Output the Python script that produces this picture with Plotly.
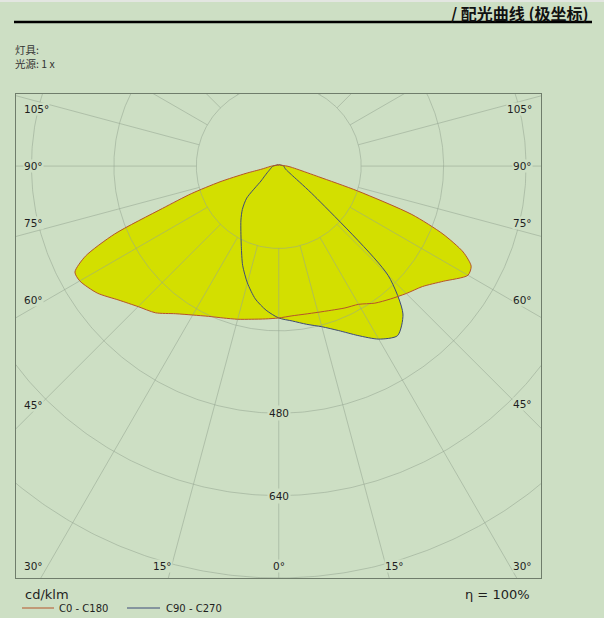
import numpy as np
import plotly.graph_objects as go

# ---------------- data (cd/klm by gamma angle, degrees from nadir) ----------------
GAMMA_C0 = [0, 5, 10, 15, 20, 25, 30, 35, 40, 45, 50, 55, 60, 62.5, 65, 67.5, 70, 72.5, 75, 80, 85, 90, 120, 150, 180]
C0 = [295, 292, 292, 294, 298, 304, 310, 325, 337, 350, 364, 390, 424, 421, 395, 345, 275, 160, 80, 38, 24, 16, 4, 3, 2]

GAMMA_C180 = [0, 5, 10, 15, 20, 25, 30, 35, 40, 45, 50, 55, 60, 62.5, 65, 67.5, 70, 72.5, 75, 77.5, 80, 85, 90, 120, 150, 180]
C180 = [295, 298, 302, 308, 314, 322, 334, 350, 372, 386, 405, 430, 446, 446, 414, 345, 240, 178, 118, 65, 33, 20, 14, 4, 3, 2]

GAMMA_C90 = [0, 5, 10, 15, 20, 25, 30, 35, 40, 45, 50, 55, 60, 65, 70, 80, 90, 120, 150, 180]
C90 = [295, 302, 312, 323, 340, 363, 388, 402, 375, 300, 90, 33, 20, 15, 13, 11, 10, 4, 3, 2]

GAMMA_C270 = [0, 5, 10, 15, 20, 25, 30, 35, 40, 45, 50, 55, 60, 65, 70, 80, 90, 120, 150, 180]
C270 = [295, 281, 262, 235, 205, 172, 147, 128, 110, 88, 45, 33, 26, 21, 18, 14, 11, 4, 3, 2]

RINGS = [160, 320, 480, 640, 800]
RING_LABELS = [480, 640]
SPOKE_STEP = 15
ANGLE_TICKS = [0, 15, 30, 45, 60, 75, 90, 105]
LEGEND_NAMES = ["C0 - C180", "C90 - C270"]
UNIT = "cd/klm"
EFFICIENCY = "η = 100%"
TITLE = "<b>/ 配光曲线 (极坐标)</b>"
INFO = ["灯具:", "光源: 1 x"]

# ---------------- layout constants ----------------
W, H = 604, 618
ML, MR, MT, MB = 16, 63, 94, 40
PW, PH = W - ML - MR, H - MT - MB
XR = [-510, 509]
YR = [-800, 140]

BG = "#cddfc4"
FILL = "#d3df00"
GRID = "rgba(150,166,146,0.55)"
FRAME = "#6f7d6b"
COL_C0 = "#b5542a"
COL_C90 = "#3d4a78"
TXT = "#1e1e1e"
FONT = "DejaVu Sans"
CJK = "Noto Sans CJK SC"


def px_x(x):
    return ML + (x - XR[0]) * PW / (XR[1] - XR[0])


def px_y(y):
    return MT + (YR[1] - y) * PH / (YR[1] - YR[0])


def data_x(px):
    return XR[0] + (px - ML) * (XR[1] - XR[0]) / PW


def data_y(py):
    return YR[1] - (py - MT) * (YR[1] - YR[0]) / PH


def paper_x(px):
    return (px - ML) / PW


def paper_y(py):
    return (MT + PH - py) / PH


def half(gammas, vals, side):
    g = np.radians(np.asarray(gammas, float))
    r = np.asarray(vals, float)
    return side * r * np.sin(g), -r * np.cos(g)


def closed(g_right, v_right, g_left, v_left):
    xr, yr = half(g_right, v_right, 1)
    xl, yl = half(g_left, v_left, -1)
    return np.concatenate([xr[::-1], xl[1:]]), np.concatenate([yr[::-1], yl[1:]])


x01, y01 = closed(GAMMA_C0, C0, GAMMA_C180, C180)
x90, y90 = closed(GAMMA_C90, C90, GAMMA_C270, C270)

SPL = dict(shape="spline", smoothing=0.7)

fig = go.Figure()

# fills
for xs, ys in [(x01, y01), (x90, y90)]:
    fig.add_trace(go.Scatter(x=xs, y=ys, mode="lines", fill="toself", fillcolor=FILL,
                             line=dict(width=0, color=FILL, **SPL), hoverinfo="skip", showlegend=False))

# grid rings
t = np.linspace(0, 2 * np.pi, 721)
gx, gy = [], []
for r in RINGS:
    gx += list(r * np.sin(t)) + [None]
    gy += list(r * np.cos(t)) + [None]
# spokes
for a in range(0, 360, SPOKE_STEP):
    ar = np.radians(a)
    gx += [RINGS[0] * np.sin(ar), 1500 * np.sin(ar), None]
    gy += [-RINGS[0] * np.cos(ar), -1500 * np.cos(ar), None]
fig.add_trace(go.Scatter(x=gx, y=gy, mode="lines", line=dict(color=GRID, width=1),
                         hoverinfo="skip", showlegend=False))

# outlines
fig.add_trace(go.Scatter(x=x90, y=y90, mode="lines", line=dict(color=COL_C90, width=1, **SPL),
                         hoverinfo="skip", showlegend=False, name=LEGEND_NAMES[1]))
fig.add_trace(go.Scatter(x=x01, y=y01, mode="lines", line=dict(color=COL_C0, width=1, **SPL),
                         hoverinfo="skip", showlegend=False, name=LEGEND_NAMES[0]))

annotations = []
shapes = []

# angle labels
cx, cy = px_x(0), px_y(0)
ROW = MT + PH - 12
for g in ANGLE_TICKS:
    sides = [0] if g == 0 else [-1, 1]
    for s in sides:
        if g == 0:
            px, py, anchor = cx, ROW, "center"
        elif g < 30:
            px = cx + s * (ROW - cy) * np.tan(np.radians(g)) + s * 9
            py, anchor = ROW, "center"
        else:
            refx = ML + 15 if s < 0 else W - MR - 15
            if g == 90:
                py = cy
            else:
                py = cy + abs(refx - cx) / np.tan(np.radians(g))
                py += -9 if g < 90 else 9
            py = min(py, ROW)
            if s < 0:
                px, anchor = ML + 7, "left"
            else:
                px, anchor = W - MR - 8, "right"
        annotations.append(dict(x=data_x(px), y=data_y(py), xref="x", yref="y", text=f"{g}°",
                                showarrow=False, xanchor=anchor, yanchor="middle", bgcolor=BG,
                                borderpad=0, font=dict(family=FONT, size=10.5, color=TXT)))

# ring labels
for r in RING_LABELS:
    annotations.append(dict(x=0, y=-r, xref="x", yref="y", text=str(r), showarrow=False,
                            xanchor="center", yanchor="middle", bgcolor=BG, borderpad=1,
                            font=dict(family=FONT, size=10.5, color=TXT)))

# header
annotations.append(dict(x=paper_x(591), y=paper_y(13), xref="paper", yref="paper", text=TITLE,
                        showarrow=False, xanchor="right", yanchor="middle",
                        font=dict(family=CJK, size=16, color="#111111")))
shapes.append(dict(type="line", xref="paper", yref="paper", x0=paper_x(14), x1=paper_x(592),
                   y0=paper_y(22), y1=paper_y(22), line=dict(color="#000000", width=2.5)))
shapes.append(dict(type="rect", xref="paper", yref="paper", x0=paper_x(0), x1=paper_x(W),
                   y0=paper_y(0), y1=paper_y(2), fillcolor="#e3e6e1", line=dict(width=0)))
annotations.append(dict(x=paper_x(13), y=paper_y(56.5), xref="paper", yref="paper",
                        text="<br>".join(INFO), showarrow=False, xanchor="left", yanchor="middle",
                        align="left", font=dict(family=CJK, size=10.5, color="#333333")))

# unit & efficiency
annotations.append(dict(x=paper_x(23), y=paper_y(594), xref="paper", yref="paper", text=UNIT,
                        showarrow=False, xanchor="left", yanchor="middle",
                        font=dict(family=FONT, size=13, color=TXT)))
annotations.append(dict(x=paper_x(532), y=paper_y(594), xref="paper", yref="paper", text=EFFICIENCY,
                        showarrow=False, xanchor="right", yanchor="middle",
                        font=dict(family=FONT, size=13, color=TXT)))

# legend (manual)
for (lx0, lx1, tx), name, col in zip([(22, 54, 57), (127, 160, 164)], LEGEND_NAMES, [COL_C0, COL_C90]):
    shapes.append(dict(type="line", xref="paper", yref="paper", x0=paper_x(lx0), x1=paper_x(lx1),
                       y0=paper_y(608), y1=paper_y(608), line=dict(color=col, width=1)))
    annotations.append(dict(x=paper_x(tx), y=paper_y(608), xref="paper", yref="paper", text=name,
                            showarrow=False, xanchor="left", yanchor="middle",
                            font=dict(family=FONT, size=10, color=TXT)))

axis_common = dict(showgrid=False, zeroline=False, showticklabels=False, ticks="",
                   showline=True, mirror=True, linecolor=FRAME, linewidth=1, fixedrange=True)
fig.update_layout(
    width=W, height=H, autosize=False,
    margin=dict(l=ML, r=MR, t=MT, b=MB, pad=0),
    paper_bgcolor=BG, plot_bgcolor=BG,
    xaxis=dict(range=XR, **axis_common),
    yaxis=dict(range=YR, **axis_common),
    annotations=annotations, shapes=shapes, showlegend=False,
)

fig.write_html(
    "out.html",
    config={"displayModeBar": False, "staticPlot": True},
    post_script=("document.body.style.margin='0';document.body.style.padding='0';"
                 "document.body.style.overflow='hidden';"
                 "document.body.style.background='" + BG + "';"),
)
